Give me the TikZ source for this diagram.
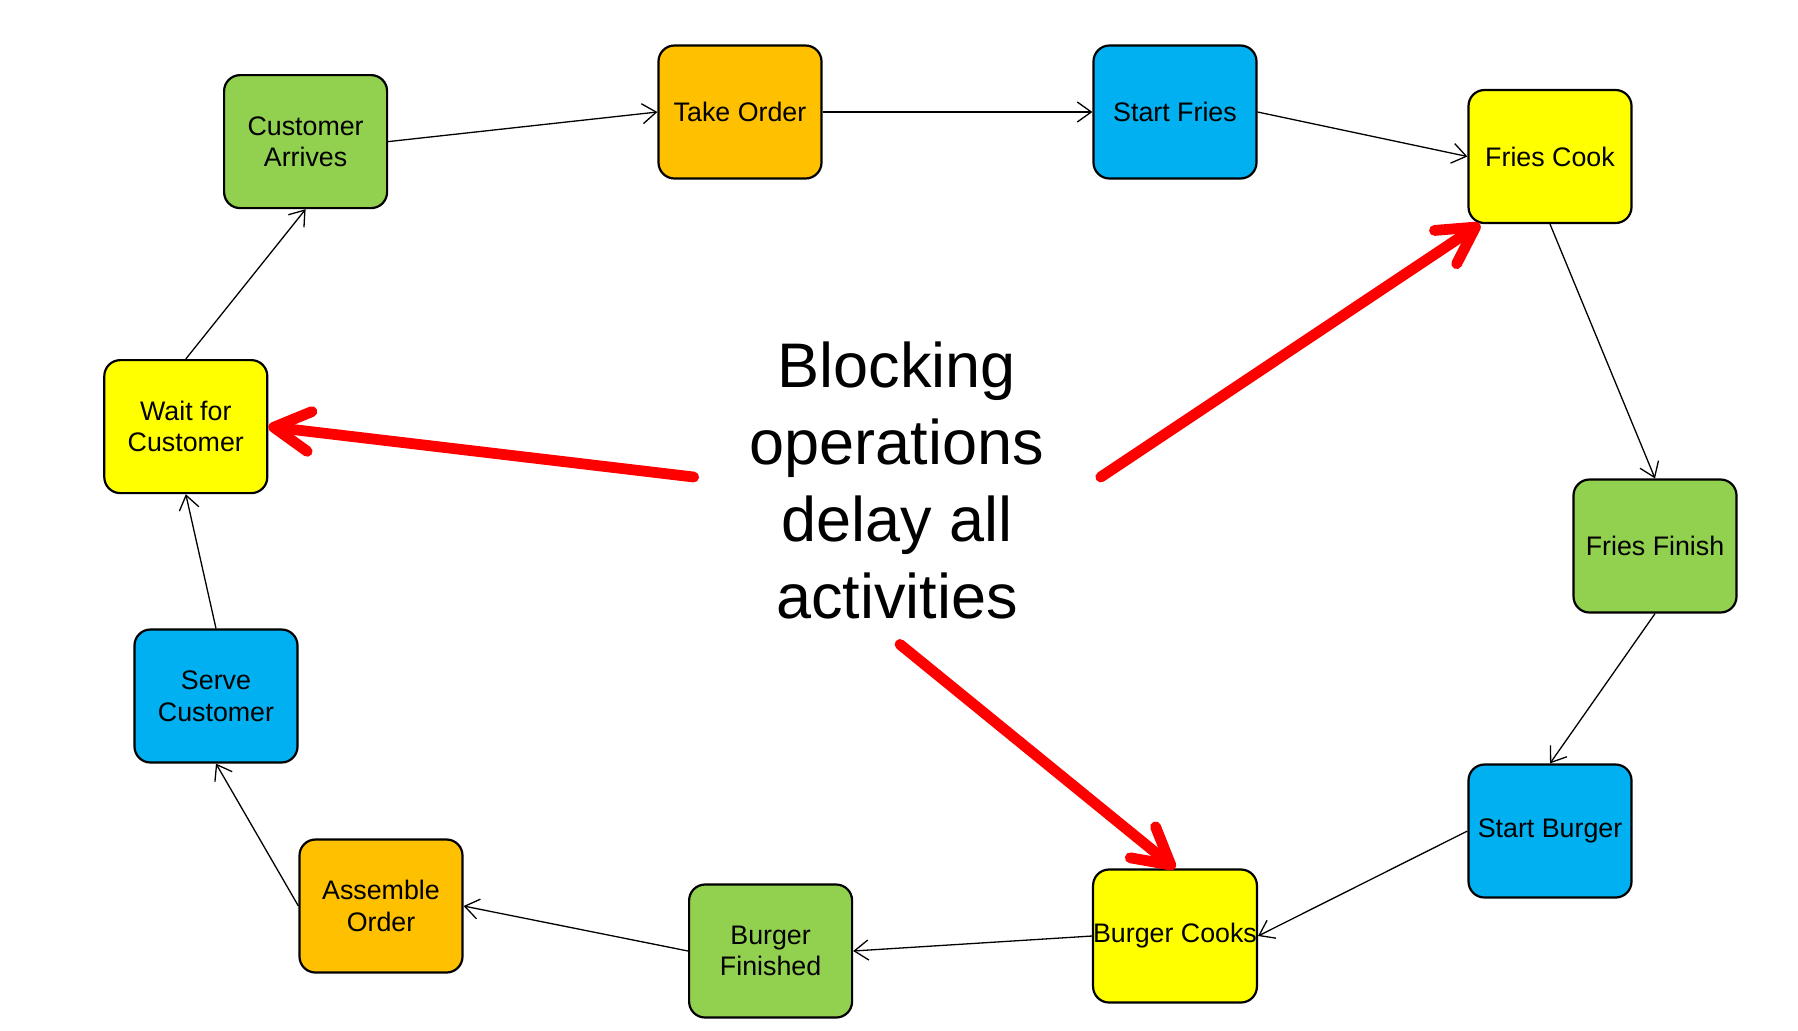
\documentclass[tikz,border=0pt]{standalone}
\usepackage{fontspec}
\setmainfont{Liberation Sans}
\usetikzlibrary{arrows.meta}

\definecolor{boxgreen}{HTML}{92D050}
\definecolor{boxorange}{HTML}{FFC000}
\definecolor{boxblue}{HTML}{00B0F0}
\definecolor{boxyellow}{HTML}{FFFF00}
\definecolor{alertred}{HTML}{FF0000}

\tikzset{
  stage/.style={draw=black, line width=1.1pt, rounded corners=8pt,
    minimum width=81.5pt, minimum height=66.5pt, inner sep=0pt,
    align=center, font=\fontsize{13.4}{15.8}\selectfont},
  flow/.style={draw=black, line width=0.65pt,
    -{Straight Barb[length=7pt,width=10pt]}},
  alert/.style={draw=alertred, line width=5.4pt, line cap=round,
    -{Straight Barb[length=18pt,width=20pt,round]}},
}

\begin{document}
\begin{tikzpicture}[x=0.5pt, y=-0.5pt]
  \useasboundingbox (0,0) rectangle (1798,1030);

  % process stages around the loop
  \node[stage, fill=boxgreen]  (arrive) at (305.6,141.6) {Customer\\Arrives};
  \node[stage, fill=boxorange] (take)   at (740,112)     {Take Order};
  \node[stage, fill=boxblue]   (sfries) at (1175,112)    {Start Fries};
  \node[stage, fill=boxyellow] (fcook)  at (1550,156.5)  {Fries Cook};
  \node[stage, fill=boxgreen]  (ffin)   at (1655,546)    {Fries Finish};
  \node[stage, fill=boxblue]   (sburg)  at (1550,831)    {Start Burger};
  \node[stage, fill=boxyellow] (bcook)  at (1175,936)    {Burger Cooks};
  \node[stage, fill=boxgreen]  (bfin)   at (770.6,951)   {Burger\\Finished};
  \node[stage, fill=boxorange] (assem)  at (381,906)     {Assemble\\Order};
  \node[stage, fill=boxblue]   (serve)  at (216,696)     {Serve\\Customer};
  \node[stage, fill=boxyellow] (wait)   at (185.8,426.6) {Wait for\\Customer};

  % central message
  \node[align=center, inner sep=0pt, font=\fontsize{31.5}{38.5}\selectfont]
    (msg) at (897,480) {Blocking\\operations\\delay all\\activities};

  % flow between stages
  \draw[flow] (arrive.east) -- (take.west);
  \draw[flow] (take.east)   -- (sfries.west);
  \draw[flow] (sfries.east) -- (fcook.west);
  \draw[flow] (fcook.south) -- (ffin.north);
  \draw[flow] (ffin.south)  -- (sburg.north);
  \draw[flow] (sburg.west)  -- (bcook.east);
  \draw[flow] (bcook.west)  -- (bfin.east);
  \draw[flow] (bfin.west)   -- (assem.east);
  \draw[flow] (assem.west)  -- (serve.south);
  \draw[flow] (serve.north) -- (wait.south);
  \draw[flow] (wait.north)  -- (arrive.south);

  % red pointers to the blocking stages
  \coordinate (r1) at (693.7,477);
  \coordinate (r2) at (1100.8,477);
  \coordinate (r3) at (900,644.4);
  \draw[alert] (r1) -- (wait.east);
  \draw[alert] (r2) -- (fcook.224);
  \draw[alert] (r3) -- (bcook.north);
\end{tikzpicture}
\end{document}
